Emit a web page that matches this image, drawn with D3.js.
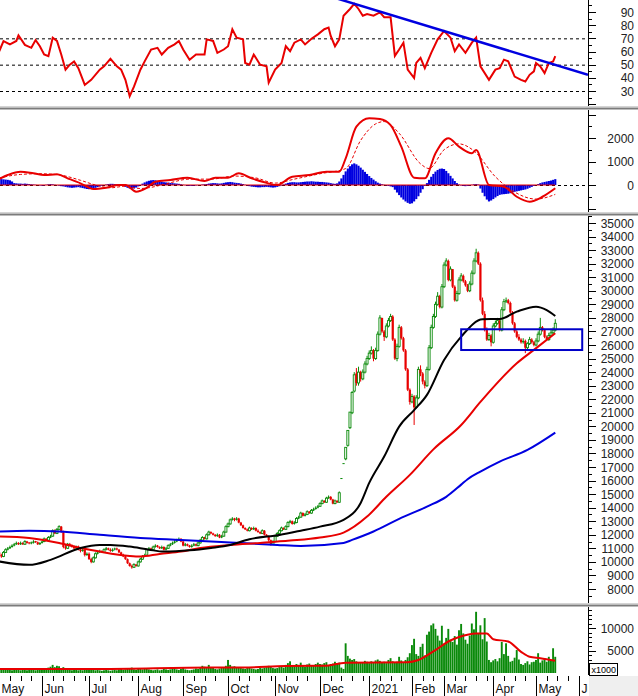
<!DOCTYPE html>
<html><head><meta charset="utf-8">
<script src="https://cdn.jsdelivr.net/npm/d3@7"></script>
<style>body{margin:0;background:#fff}svg{display:block;font-family:"Liberation Sans",Arial,sans-serif}</style>
</head><body><svg id="c" width="638" height="696"></svg>
<script>
// ---------------- DATA ----------------
const monthIdx = [0,20,42,65,86,107,129,150,173,193,208,231,251,271];
const monthLbl = ["May","Jun","Jul","Aug","Sep","Oct","Nov","Dec","2021","Feb","Mar","Apr","May","Jun"];

const close = [
10500,10400,10700,10900,11000,11100,11200,11300,11400,11300,
11400,11300,11500,11400,11350,11400,11500,11450,11300,11400,
11500,11700,11600,11800,11900,12300,12100,12400,12600,12200,
11100,11000,11300,11200,11100,11000,11100,10900,10800,10900,
10500,10600,10200,10000,10300,10600,10700,10800,10700,10900,
11000,10900,10800,10900,10950,10900,10700,10500,10400,10200,
9900,9700,9600,9800,9700,10000,10200,10400,10500,10900,
11000,10900,11100,11200,11100,11000,11100,10900,11000,11200,
11300,11400,11500,11600,11700,11500,11200,11300,11200,11100,
11200,11300,11200,11400,11600,11800,11700,12000,12200,12100,
12000,11900,12000,11800,11900,12200,12600,12800,13100,13200,
13100,13200,12900,12700,12500,12400,12300,12500,12400,12500,
12300,12200,12100,12300,12000,11900,11600,11300,11500,11900,
12100,12300,12500,12400,12600,12900,13000,12800,12900,13200,
13300,13600,13400,13500,13700,13600,13800,13900,14000,14100,
14300,14500,14400,14700,14800,14600,14300,14500,14400,15100,
16150,17250,18450,19700,21050,22500,23800,23200,24000,23500,
24000,24600,25000,25400,25600,25000,25600,26800,28000,27000,
26600,27400,27800,28100,26400,25000,25900,27300,26500,25600,
24200,22700,21800,22200,21400,22100,24200,23900,23300,23000,
24200,25800,27300,28100,29000,29600,28800,30300,31900,32200,
30800,31600,30300,29300,29800,30800,31100,30700,30400,30000,
30500,31300,32200,32800,32000,29300,28300,27100,26400,26700,
26200,27400,27600,27800,27100,28600,29200,29300,29100,28400,
27600,27000,26600,26400,26200,26300,25800,26100,26400,26200,
26000,26300,26800,27300,27100,26600,26400,26700,26900,27100,
27600];
const open = [
10700,10500,10400,10700,10900,11000,11100,11200,11300,11400,
11300,11400,11300,11500,11400,11350,11400,11500,11450,11300,
11400,11500,11700,11600,11800,11900,12300,12100,12400,12600,
12200,11100,11000,11300,11200,11100,11000,11100,10900,10800,
10900,10500,10600,10200,10000,10300,10600,10700,10800,10700,
10900,11000,10900,10800,10900,10950,10900,10700,10500,10400,
10200,9900,9700,9600,9800,9700,10000,10200,10400,10500,
10900,11000,10900,11100,11200,11100,11000,11100,10900,11000,
11200,11300,11400,11500,11600,11700,11500,11200,11300,11200,
11100,11200,11300,11200,11400,11600,11800,11700,12000,12200,
12100,12000,11900,12000,11800,11900,12200,12600,12800,13100,
13200,13100,13200,12900,12700,12500,12400,12300,12500,12400,
12500,12300,12200,12100,12300,12000,11900,11600,11300,11500,
11900,12100,12300,12500,12400,12600,12900,13000,12800,12900,
13200,13300,13600,13400,13500,13700,13600,13800,13900,14000,
14100,14300,14500,14400,14700,14800,14600,14300,14500,14400,
16150,17250,17600,18600,19900,21000,22600,23900,23200,24000,
23500,24000,24600,25000,25400,25600,25000,25600,26800,28000,
27000,26600,27400,27800,28100,26400,25000,25900,27300,26500,
25600,24200,22700,21800,22200,21400,22100,24200,23900,23300,
23000,24200,25800,27300,28100,29000,29600,28800,30300,31900,
32200,30800,31600,30300,29300,29800,30800,31100,30700,30400,
30000,30500,31300,32200,32800,32000,29300,28300,27100,26400,
26700,26200,27400,27600,27800,27100,28600,29200,29300,29100,
28400,27600,27000,26600,26400,26200,26300,25800,26100,26400,
26200,26000,26300,26800,27300,27100,26600,26400,26700,26900,
27100];
const high = [
10800,10600,10800,11000,11100,11200,11300,11400,11500,11450,
11500,11450,11600,11550,11450,11500,11600,11550,11500,11450,
11550,11800,11750,11900,12000,12400,12400,12500,12700,12650,
12300,11300,11400,11400,11300,11200,11200,11200,11000,11000,
10950,10700,10700,10300,10400,10700,10800,10900,10850,11000,
11100,11050,11000,11000,11050,11050,10950,10750,10600,10450,
10250,9950,9800,9900,9850,10100,10300,10500,10600,11000,
11100,11050,11200,11300,11250,11150,11200,11150,11100,11300,
11400,11500,11600,11700,11800,11750,11550,11400,11350,11250,
11300,11400,11350,11500,11700,11900,11850,12100,12300,12250,
12150,12050,12100,12050,12000,12300,12700,12900,13200,13300,
13250,13300,13250,12950,12750,12550,12450,12600,12550,12600,
12550,12400,12250,12400,12350,12050,11950,11650,11600,12000,
12200,12400,12600,12550,12700,13000,13100,13050,13000,13300,
13400,13700,13650,13600,13800,13750,13900,14000,14100,14200,
14400,14600,14550,14800,14900,14850,14650,14600,14550,15200,
16150,17250,18450,19700,21050,22600,24000,24300,24400,24100,
24200,24800,25200,25600,25900,25700,25800,27000,28200,28000,
27100,27600,28000,28300,28200,26500,26100,27500,27400,26600,
25700,24300,22800,22400,22300,22300,24400,24500,24000,23400,
24400,26000,27500,28300,29200,29900,29700,30500,32100,32400,
32300,31800,31600,30400,30000,31000,31300,31200,30800,30500,
30700,31500,32400,33100,32900,32100,29500,28500,27300,26900,
26800,27600,27800,28000,27900,28800,29400,29500,29400,29200,
28500,27700,27100,26800,26500,26500,26400,26200,26600,26500,
26300,26500,27000,28000,27400,27200,26700,26900,27200,27300,
27900];
const low = [
10400,10300,10350,10650,10850,10950,11050,11150,11250,11250,
11250,11250,11250,11350,11300,11300,11350,11400,11250,11250,
11350,11450,11550,11550,11750,11850,12050,12050,12350,12150,
11000,10900,10950,11150,11050,10950,10950,10850,10700,10750,
10400,10450,10150,9900,9950,10250,10550,10650,10650,10650,
10850,10850,10750,10750,10850,10850,10650,10450,10350,10150,
9850,9650,9500,9550,9650,9650,9950,10150,10350,10450,
10850,10850,10850,11050,11050,10950,10950,10850,10850,10950,
11150,11250,11350,11450,11550,11450,11150,11150,11150,11050,
11050,11150,11150,11150,11350,11550,11650,11650,11950,12050,
11950,11850,11850,11750,11750,11850,12150,12550,12750,13050,
13000,13050,12850,12650,12450,12350,12250,12250,12350,12350,
12250,12150,12050,12050,11950,11850,11500,11200,11250,11450,
11850,12050,12250,12350,12350,12550,12850,12750,12750,12850,
13150,13250,13350,13350,13450,13550,13550,13750,13850,13950,
14050,14250,14350,14350,14650,14550,14250,14250,14350,14350,
16150,17250,17500,18500,19800,20900,22500,23000,23000,23300,
23400,23900,24500,24900,25300,24800,24900,25500,26700,26900,
26300,26500,27300,27700,26300,24900,24800,25800,26400,25500,
24100,22600,21600,21700,20100,21300,22000,23700,23100,22800,
22900,24100,25700,27200,28000,28900,28700,28700,30200,31800,
30700,30700,30200,29200,29200,29700,30700,30600,30300,29900,
29900,30400,31200,32100,31900,29200,28200,27000,26300,26300,
25900,26100,27300,27500,27000,27000,28500,29100,29000,28300,
27500,26900,26500,26300,26100,26100,25400,25700,26000,26100,
25900,25900,26200,26700,27000,26500,26300,26300,26600,26800,
27000];
// volume, thousands of shares
const volume = [
800,700,900,1000,800,700,600,800,900,700,
600,700,800,600,700,900,800,600,700,800,
900,1000,800,1200,1400,1800,1300,1600,1500,1100,
1300,900,800,700,600,700,800,600,700,600,
900,800,1000,900,700,600,700,600,500,600,
700,600,500,600,700,600,800,900,700,800,
1100,900,1200,800,700,900,1000,800,900,1100,
800,700,600,700,800,600,700,900,800,700,
800,900,1000,800,700,900,1300,800,700,600,
700,800,1000,900,1200,1600,1400,1100,1800,1300,
1200,900,800,1000,1100,1300,1600,2900,1800,1400,
1500,1300,1200,1100,1000,900,1100,1200,1000,900,
800,900,1100,1000,1200,1300,1600,1400,1100,1000,
1100,1300,1500,1200,1800,2200,2600,1700,1500,2000,
1800,2300,1600,1400,1900,2100,1700,1600,2000,2300,
2000,1900,2200,2400,1800,2000,2100,2500,2200,2300,
1200,900,6600,3800,3200,2900,3100,2600,2400,2300,
2300,2700,2500,2200,2600,2400,2800,3000,2700,2300,
2500,2200,2900,3300,2600,2400,2500,3600,2800,2300,
2900,3500,4400,6200,7600,4200,3800,5800,6500,3900,
8500,9200,10600,11000,9800,8300,7200,10500,6500,7800,
9800,7400,6900,8200,6300,9500,10900,8800,7400,6500,
8300,11000,9700,13600,8900,10600,7500,12200,7000,2900,
2400,2800,3100,2600,3300,6900,4200,6600,3800,2500,
2700,3400,5100,3000,2000,1800,2200,2600,1900,2400,
2500,2900,4400,2300,2800,3300,2500,3600,2900,5500,
3600];
const volMA = [[0,900],[47,900],[99,1200],[114,1200],[134,1550],[152,1600],[162,2300],[191,2400],[196,2900],[204,5100],[210,7000],[215,8000],[223,8800],[228,8800],[231,7500],[238,7000],[244,4700],[248,3600],[253,3300],[260,2700]];

const maBlack = [[0,10030],[14,9780],[24,10150],[38,11030],[47,11250],[52,11250],[61,11130],[70,10900],[77,10760],[89,10850],[99,11030],[108,11250],[117,11670],[131,11990],[141,12300],[150,12600],[161,13100],[169,14350],[173,15830],[180,17770],[187,19980],[194,21200],[200,22320],[208,24900],[216,26620],[226,27900],[234,27920],[242,28460],[251,28830],[256,28580],[260,28140]];
const maRed = [[0,11870],[14,11770],[28,11400],[38,11030],[47,10760],[61,10440],[66,10400],[75,10590],[85,10760],[94,11030],[108,11250],[122,11400],[136,11570],[150,11800],[161,12160],[172,13340],[181,14800],[192,16420],[203,18300],[216,20100],[225,21800],[242,24650],[250,25640],[260,26870]];
const maBlue = [[0,12235],[14,12300],[28,12250],[47,12000],[66,11770],[85,11620],[108,11430],[130,11250],[141,11180],[161,11400],[165,11620],[175,12240],[187,13170],[200,14080],[209,14800],[216,15700],[219,16100],[225,16660],[234,17400],[247,18260],[260,19535]];
const box = {i0:216, i1:272.6, p0:25630, p1:27160};

const rsi = [[0,60.2],[2,67.9],[5,65.4],[8,68],[9,72.3],[12,65],[15,62.8],[17,68.7],[19,64],[21,57.7],[23,56.4],[25,70.5],[27,68],[29,57.7],[31,46.2],[33,50],[35,52.5],[37,47.4],[40,34.6],[43,38.5],[47,46.2],[49,48.7],[52,54.4],[55,48.7],[57,46.2],[59,38.5],[61,26],[63,33.3],[66,46.2],[68,52.5],[71,61.5],[74,62.8],[76,57.7],[79,62.8],[82,65.4],[84,68],[86,61.5],[89,53.8],[92,57.7],[96,57.7],[97,69.2],[100,68],[102,59],[105,61.5],[107,64],[109,76.9],[111,70.5],[114,69.2],[115,51.3],[117,50],[119,57.7],[122,50],[125,48.7],[126,36.4],[129,46.2],[132,51.3],[134,64],[136,60.2],[138,66.7],[141,69.2],[143,65.4],[146,69.7],[149,73],[152,76.9],[154,78.2],[155,71.8],[157,64],[159,69.2],[161,87.2],[164,92.3],[166,96.2],[168,92.3],[170,87.2],[172,88.5],[175,87.2],[178,89.7],[180,86],[183,86],[185,56.7],[187,61.5],[189,66.7],[191,46.2],[194,39.8],[195,51.3],[197,55.1],[199,47.4],[202,59],[205,69.2],[208,75.6],[211,70.5],[213,60.2],[215,65.4],[218,59],[221,66.7],[223,70.5],[225,48.7],[229,38.5],[232,46.2],[234,47.4],[236,53.8],[238,52.5],[241,41],[244,38.5],[246,37.2],[248,42.3],[250,44.9],[251,51.3],[253,48.7],[255,43.6],[257,51.3],[259,52.5],[260,56.4]];
const rsiTrend = [[158.4,100],[275.3,42.3]];
const rsiLevels = [70,50,30];

const macd = [[0,255],[4,425],[10,566],[16,497],[21,425],[27,455],[32,284],[38,72],[44,-170],[50,-114],[56,0],[59,0],[64,-284],[69,-114],[73,142],[80,213],[88,312],[96,170],[101,312],[107,312],[112,497],[118,284],[124,114],[130,0],[137,355],[145,425],[153,566],[159,566],[162,1135],[167,2480],[173,2840],[178,2810],[183,2550],[188,1630],[194,312],[199,284],[204,1350],[210,1990],[215,1630],[221,1350],[223,1490],[229,0],[236,-72],[242,-500],[248,-710],[254,-500],[260,-140]];
const signal = [[0,300],[10,450],[19,480],[28,430],[38,200],[45,0],[52,-120],[59,-50],[66,-150],[71,-100],[78,50],[89,250],[99,250],[110,380],[120,300],[129,80],[138,250],[150,480],[162,700],[169,1900],[176,2600],[180,2700],[187,2200],[197,900],[201,700],[208,1500],[215,1750],[222,1450],[232,350],[241,-300],[251,-600],[260,-400]];
const hist = [
260,250,240,230,220,200,150,
80,70,60,60,50,60,50,40,30,20,10,0,
-20,-30,-20,10,30,40,30,10,-10,-30,-50,-60,
-80,-100,-110,-120,-110,-100,-90,-110,-130,
-150,-170,-180,-170,-150,-120,-90,-60,-30,0,
20,40,50,50,40,30,10,-10,-40,
-80,-120,-150,-160,-150,-110,-60,
0,60,110,150,180,200,210,200,180,160,
140,120,110,100,90,80,70,60,50,30,10,-10,
-30,-40,-40,-30,-20,-10,0,20,30,40,60,
70,80,80,70,60,70,90,110,120,130,120,100,
90,80,60,40,10,-20,
-50,-70,-80,-90,-100,-100,-90,-90,-80,-90,-100,-110,-100,-80,-50,-20,
20,60,90,110,120,120,110,
110,120,130,140,150,150,160,150,140,140,130,130,120,110,100,80,60,50,70,
150,280,430,580,700,800,880,920,
880,820,740,650,560,470,380,300,230,160,100,60,30,10,
-20,-40,-60,-90,
-200,-320,-430,-530,-620,-700,-760,-800,-780,-700,-600,
-480,-330,-180,
-40,80,220,350,470,570,640,690,700,
680,600,500,390,280,170,80,
20,-20,-40,-50,-40,-20,10,30,40,20,
-150,-330,-480,-620,-700,
-660,-600,-530,-470,-420,-400,-390,-380,-370,-350,-320,
-290,-270,-250,-230,-210,-190,-160,-120,-80,-40,
0,40,80,110,130,150,170,190,220,250];

// ---------------- DRAW ----------------
const AX = 588, W = 638;
const svg = d3.select("#c");
const x = d3.scaleLinear().domain([0, 271]).range([-0.77, 578.8]);
const yR = d3.scaleLinear().domain([30, 90]).range([91, 12]);
const yM = d3.scaleLinear().domain([0, 2000]).range([185, 138]);
const yP = d3.scaleLinear().domain([8000, 35000]).range([589, 223]);
const yV = d3.scaleLinear().domain([0, 10000]).range([673, 628]);

const GREEN = "#0a8a0a", RED = "#e80000", BLUE = "#0000e0";
const defs = svg.append("defs");
function clip(id, y0, y1) {
  defs.append("clipPath").attr("id", id).append("rect").attr("x", 0).attr("y", y0).attr("width", AX).attr("height", y1 - y0);
  return svg.append("g").attr("clip-path", `url(#${id})`);
}
const gR = clip("cr", 0, 106);
const gM = clip("cm", 110, 212);
const gP = clip("cp", 216, 603);
const gV = clip("cv", 607, 674);

const line = (sy, curve) => d3.line().x(d => x(d[0])).y(d => sy(d[1])).curve(curve || d3.curveLinear);

// RSI
rsiLevels.forEach(v => gR.append("line").attr("x1", 0).attr("x2", AX).attr("y1", yR(v) + 0.5).attr("y2", yR(v) + 0.5)
  .attr("stroke", "#000").attr("stroke-dasharray", "3,3"));
gR.append("path").attr("d", line(yR)(rsi)).attr("fill", "none").attr("stroke", RED).attr("stroke-width", 2);
gR.append("path").attr("d", line(yR)(rsiTrend)).attr("fill", "none").attr("stroke", BLUE).attr("stroke-width", 2.5);

// MACD
gM.append("line").attr("x1", 0).attr("x2", AX).attr("y1", yM(0) + 0.5).attr("y2", yM(0) + 0.5).attr("stroke", "#000").attr("stroke-dasharray", "3,3");
gM.selectAll("rect.h").data(hist).join("rect")
  .attr("x", (d, i) => x(i) - 1.07).attr("width", 2.14)
  .attr("y", d => Math.min(yM(d), yM(0))).attr("height", d => Math.abs(yM(d) - yM(0)))
  .attr("fill", BLUE);
gM.append("line").attr("x1", x(0)).attr("x2", x(hist.length - 1)).attr("y1", yM(0)).attr("y2", yM(0)).attr("stroke", RED).attr("stroke-width", 1);
gM.append("path").attr("d", line(yM, d3.curveMonotoneX)(signal)).attr("fill", "none").attr("stroke", RED).attr("stroke-width", 1).attr("stroke-dasharray", "3,2");
gM.append("path").attr("d", line(yM, d3.curveMonotoneX)(macd)).attr("fill", "none").attr("stroke", RED).attr("stroke-width", 2);

// Price candles
const candles = close.map((c, i) => ({i, o: open[i], h: high[i], l: low[i], c}));
const cg = gP.append("g");
candles.forEach(d => {
  const up = d.c >= d.o, col = up ? GREEN : RED, cx = x(d.i);
  cg.append("line").attr("x1", cx).attr("x2", cx).attr("y1", yP(d.h)).attr("y2", yP(d.l)).attr("stroke", col).attr("stroke-width", 1);
  const y0 = yP(Math.max(d.o, d.c)), y1 = yP(Math.min(d.o, d.c));
  const hgt = Math.max(1, y1 - y0);
  if (up && hgt > 2) {
    cg.append("rect").attr("x", cx - 1).attr("y", y0).attr("width", 2).attr("height", hgt).attr("fill", "#fff").attr("stroke", col).attr("stroke-width", 0.9);
  } else {
    cg.append("rect").attr("x", cx - 1.1).attr("y", y0 - (hgt === 1 ? 0.5 : 0)).attr("width", 2.2).attr("height", hgt).attr("fill", col);
  }
});
gP.append("path").attr("d", line(yP, d3.curveMonotoneX)(maBlue)).attr("fill", "none").attr("stroke", BLUE).attr("stroke-width", 2);
gP.append("path").attr("d", line(yP, d3.curveMonotoneX)(maRed)).attr("fill", "none").attr("stroke", RED).attr("stroke-width", 2);
gP.append("path").attr("d", line(yP, d3.curveMonotoneX)(maBlack)).attr("fill", "none").attr("stroke", "#000").attr("stroke-width", 2);
svg.append("rect").attr("x", x(box.i0)).attr("y", yP(box.p1)).attr("width", x(box.i1) - x(box.i0)).attr("height", yP(box.p0) - yP(box.p1))
  .attr("fill", "none").attr("stroke", "#0000c8").attr("stroke-width", 2);

// Volume
gV.selectAll("rect.v").data(volume).join("rect")
  .attr("x", (d, i) => x(i) - 1).attr("width", 1.9)
  .attr("y", d => yV(d)).attr("height", d => yV(0) - yV(d)).attr("fill", "#0a8a0a");
gV.append("path").attr("d", line(yV, d3.curveMonotoneX)(volMA)).attr("fill", "none").attr("stroke", RED).attr("stroke-width", 2);

// Separators
[106, 212, 603].forEach(y => {
  svg.append("rect").attr("x", 0).attr("y", y).attr("width", W).attr("height", 1).attr("fill", "#d4d4d4");
  svg.append("rect").attr("x", 0).attr("y", y + 1.5).attr("width", W).attr("height", 2).attr("fill", "#7c7c7c");
});

// Right axes
function axis(scale, y0, y1, majors, minors, labels, fmt) {
  const g = svg.append("g");
  g.append("line").attr("x1", AX + 0.5).attr("x2", AX + 0.5).attr("y1", y0).attr("y2", y1).attr("stroke", "#000");
  majors.forEach(v => { const y = Math.round(scale(v)) + 0.5; if (y > y0 && y < y1)
    g.append("line").attr("x1", AX).attr("x2", AX + 8).attr("y1", y).attr("y2", y).attr("stroke", "#000"); });
  minors.forEach(v => { const y = Math.round(scale(v)) + 0.5; if (y > y0 && y < y1)
    g.append("line").attr("x1", AX).attr("x2", AX + 4).attr("y1", y).attr("y2", y).attr("stroke", "#000"); });
  labels.forEach(v => g.append("text").attr("x", 634).attr("y", scale(v) + 4.5).attr("text-anchor", "end")
    .attr("font-size", 12).attr("fill", "#222").text(fmt ? fmt(v) : v));
}
axis(yR, 0, 106, d3.range(20, 101, 10), d3.range(15, 101, 10), d3.range(30, 91, 10));
axis(yM, 110, 212, d3.range(-1000, 3001, 1000), d3.range(-1500, 3001, 1000), [0, 1000, 2000]);
axis(yP, 216, 603, d3.range(8000, 35001, 1000), d3.range(7500, 35600, 1000), d3.range(8000, 35001, 1000));
axis(yV, 607, 675, [5000, 10000, 15000], d3.range(1000, 15000, 1000), [5000, 10000]);

// x1000 box
svg.append("rect").attr("x", 589.5).attr("y", 663.5).attr("width", 28).attr("height", 12).attr("fill", "#fff").attr("stroke", "#000");
svg.append("text").attr("x", 591.5).attr("y", 673).attr("font-size", 9).attr("fill", "#000").text("x1000");

// X axis
svg.append("rect").attr("x", 589).attr("y", 676).attr("width", 49).attr("height", 20).attr("fill", "#efefef");
const gX = svg.append("g");
defs.append("clipPath").attr("id", "cx").append("rect").attr("x", 0).attr("y", 670).attr("width", AX).attr("height", 26);
const gXc = gX.append("g").attr("clip-path", "url(#cx)");
monthIdx.forEach((m, k) => {
  const px = Math.round(x(m)) + 0.5;
  gXc.append("line").attr("x1", px).attr("x2", px).attr("y1", 676).attr("y2", 696).attr("stroke", "#000");
  gXc.append("text").attr("x", px + 2).attr("y", 693).attr("font-size", 12).attr("fill", "#111").text(monthLbl[k]);
  const next = k + 1 < monthIdx.length ? monthIdx[k + 1] : 276;
  for (let j = m + 5; j < next - 1; j += 5) {
    const qx = Math.round(x(j)) + 0.5;
    gXc.append("line").attr("x1", qx).attr("x2", qx).attr("y1", 676).attr("y2", 681).attr("stroke", "#000");
  }
});
</script></body></html>
